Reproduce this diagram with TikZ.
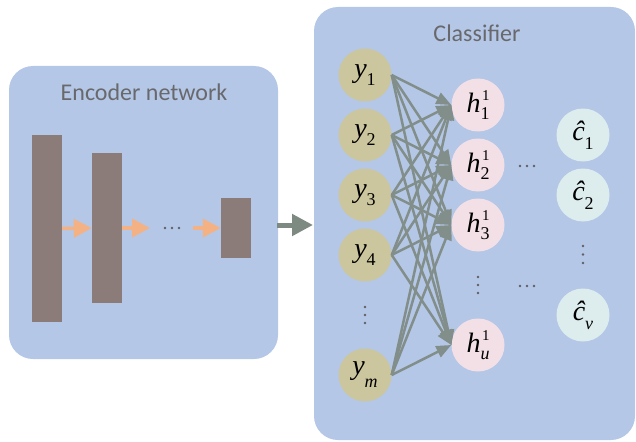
\documentclass[tikz,border=0pt]{standalone}
\usepackage{fontspec}
\newfontfamily\titlefont{Carlito}
\newfontfamily\unitfont{Liberation Serif}
\usetikzlibrary{arrows.meta}

\definecolor{panelblue}{RGB}{180,199,231}
\definecolor{blockbrown}{RGB}{139,124,121}
\definecolor{flow}{RGB}{244,177,131}
\definecolor{wire}{RGB}{130,142,137}
\definecolor{bigarrow}{RGB}{125,138,130}
\definecolor{yfill}{RGB}{204,198,158}
\definecolor{hfill}{RGB}{242,224,230}
\definecolor{cfill}{RGB}{221,237,238}
\definecolor{titlegray}{RGB}{105,105,108}
\definecolor{dotgray}{RGB}{95,95,100}

% unit labels: italic letter with lowered/raised indices
\newcommand{\idxfont}{\fontsize{18}{18}\selectfont\unitfont}
\newcommand{\supfont}{\fontsize{15}{15}\selectfont\unitfont}
\newcommand{\idx}[2]{\raisebox{#1}{\idxfont #2}}
\newcommand{\ylab}[1]{{\unitfont\itshape y}\idx{-8pt}{#1}}
\newcommand{\hlab}[1]{{\unitfont\itshape h}\raisebox{-7pt}{\vbox{\baselineskip=19pt\lineskiplimit=-100pt
    \hbox{\hspace{1.5pt}\supfont 1}\hbox{\idxfont #1}}}}
\newcommand{\clab}[1]{{\unitfont\itshape \^{c}}\idx{-9pt}{#1}}

\tikzset{
  panel/.style={fill=panelblue, rounded corners=24pt, inner sep=0pt},
  block/.style={fill=blockbrown, inner sep=0pt, minimum width=30pt},
  unit/.style={circle, inner sep=0pt, minimum size=53pt,
               font=\fontsize{28}{28}\selectfont\unitfont},
  ynode/.style={unit, fill=yfill},
  hnode/.style={unit, fill=hfill},
  cnode/.style={unit, fill=cfill},
  title/.style={text=titlegray, font=\fontsize{24}{24}\selectfont\titlefont},
  flowarrow/.style={draw=flow, line width=3.5pt,
                    -{Triangle[length=18pt,width=18pt]}, fill=flow},
  wirearrow/.style={draw=wire, line width=2.5pt,
                    -{Triangle[length=15pt,width=12pt]}, fill=wire},
  dot/.style={circle, fill=dotgray, inner sep=0pt, minimum size=2.6pt}
}

\begin{document}
\begin{tikzpicture}[x=1pt,y=-1pt]
  \useasboundingbox (0,0) rectangle (636,441);

  % panels
  \node[panel, minimum width=269pt, minimum height=293pt] (enc) at (143.5,212.5) {};
  \node[panel, minimum width=321pt, minimum height=433pt] (cls) at (474.5,223.5) {};
  \node[title] (enctitle) at (144,92) {Encoder network};
  \node[title] (clstitle) at (477,33) {Classifier};

  % encoder layers
  \node[block, minimum height=187pt] (b1) at (47,228.5) {};
  \node[block, minimum height=150pt] (b2) at (107,228) {};
  \node[block, minimum height=60pt]  (b3) at (236,228) {};
  \coordinate (f2end) at (150,228);
  \coordinate (f3start) at (193,228);
  \draw[flowarrow] (b1.east) -- (b2.west);
  \draw[flowarrow] (b2.east) -- (f2end);
  \draw[flowarrow] (f3start) -- (b3.west);
  \node[dot] (ed1) at (165,228) {};
  \node[dot] (ed2) at (172,228) {};
  \node[dot] (ed3) at (179,228) {};

  % hand-off from encoder to classifier
  \coordinate (hand1) at (277,225);
  \coordinate (hand2) at (313,225);
  \draw[draw=bigarrow, fill=bigarrow, line width=5pt,
        -{Triangle[length=21pt,width=21pt]}] (hand1) -- (hand2);

  % input units
  \node[ynode] (y1) at (365,75)  {\ylab{1}};
  \node[ynode] (y2) at (365,135) {\ylab{2}};
  \node[ynode] (y3) at (365,195) {\ylab{3}};
  \node[ynode] (y4) at (365,255) {\ylab{4}};
  \node[ynode] (ym) at (365,375) {{\unitfont\itshape y}\idx{-13pt}{\itshape m}};
  \node[dot] (yd1) at (365,307) {};
  \node[dot] (yd2) at (365,315) {};
  \node[dot] (yd3) at (365,323) {};

  % hidden units
  \node[hnode] (h1) at (478,105) {\hlab{1}};
  \node[hnode] (h2) at (478,165) {\hlab{2}};
  \node[hnode] (h3) at (478,225) {\hlab{3}};
  \node[hnode] (hu) at (478,345) {\hlab{\itshape u}};
  \node[dot] (hd1) at (478,277) {};
  \node[dot] (hd2) at (478,285) {};
  \node[dot] (hd3) at (478,293) {};

  % output units
  \node[cnode] (c1) at (583,135) {\clab{1}};
  \node[cnode] (c2) at (583,195) {\clab{2}};
  \node[cnode] (cv) at (583,315) {\clab{\itshape v}};
  \node[dot] (cd1) at (583,246) {};
  \node[dot] (cd2) at (583,254.5) {};
  \node[dot] (cd3) at (583,263) {};

  % dots between hidden and output columns
  \node[dot] (md1) at (520,166) {};
  \node[dot] (md2) at (527,166) {};
  \node[dot] (md3) at (534,166) {};
  \node[dot] (ld1) at (520,286) {};
  \node[dot] (ld2) at (527,286) {};
  \node[dot] (ld3) at (534,286) {};

  % full connections input -> hidden
  \foreach \a in {y1,y2,y3,y4,ym}
    \foreach \b in {h1,h2,h3,hu}
      \draw[wirearrow] (\a.east) -- (\b.west);
\end{tikzpicture}
\end{document}
